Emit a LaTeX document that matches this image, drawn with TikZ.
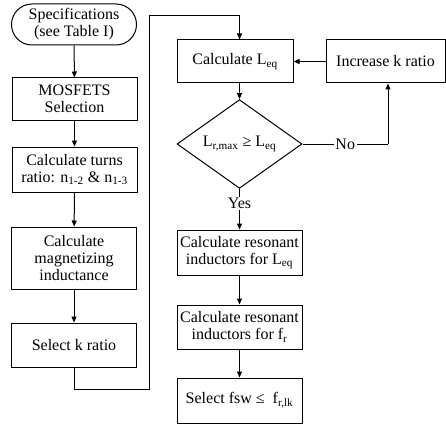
\documentclass[tikz,border=0pt]{standalone}
\usepackage{fontspec}
\setmainfont{Liberation Serif}
\usetikzlibrary{shapes.misc,shapes.geometric,arrows.meta,calc}

\begin{document}
\begin{tikzpicture}[x=1pt,y=-1pt,
  every node/.style={font=\fontsize{16}{17}\selectfont, align=center, inner sep=1pt},
  box/.style={draw, line width=1pt, rectangle, minimum width=125pt, minimum height=44pt},
  term/.style={draw, line width=1pt, rounded rectangle, minimum width=127pt, minimum height=41pt},
  decision/.style={draw, line width=1pt, diamond, minimum width=125pt, minimum height=62pt, inner sep=0pt},
  flow/.style={line width=1pt, -{Triangle[length=6pt,width=5pt]}},
  link/.style={line width=1pt},
  lbl/.style={fill=white, inner sep=1.5pt}
]
\useasboundingbox (0,0) rectangle (446,425);

% left column
\node[term] (spec) at (74,24.5) {Specifications\\(see Table I)};
\node[box, minimum height=42pt] (mos) at (74.5,99) {MOSFETS\\Selection};
\node[box, minimum height=45pt] (turns) at (74.5,169.5) {Calculate turns\\ratio: n\textsubscript{1-2} \& n\textsubscript{1-3}};
\node[box, minimum height=62pt] (mag) at (74,258) {Calculate\\magnetizing\\inductance};
\node[box] (selk) at (74,345) {Select k ratio};

% right column
\node[box, minimum width=116pt, minimum height=43pt] (leq) at (235,61.5) {Calculate L\textsubscript{eq}};
\node[box, minimum width=119pt, minimum height=43pt] (inc) at (385.5,61.5) {Increase k ratio};
\node[decision] (dia) at (239.5,144) {L\textsubscript{r,max} ≥ L\textsubscript{eq}};
\node[box, minimum height=45pt] (res1) at (239.5,252.5) {Calculate resonant\\inductors for L\textsubscript{eq}};
\node[box] (res2) at (239.5,327) {Calculate resonant\\inductors for f\textsubscript{r}};
\node[box, minimum height=45pt] (fsw) at (239.5,400.5) {Select fsw ≤\ \ f\textsubscript{r,lk}};

% routing points of the return path
\coordinate (b1) at (74,389);
\coordinate (b2) at (149,389);
\coordinate (b3) at (149,16);
\coordinate (b4) at (239.5,16);
\coordinate (nx) at (388,144);

% connectors
\draw[flow] (spec) -- (mos);
\draw[flow] (mos) -- (turns);
\draw[flow] (turns) -- (mag);
\draw[flow] (mag) -- (selk);
\draw[link] (selk.south) -- (b1) -- (b2) -- (b3) -- (b4);
\draw[flow] (b4) -- (b4 |- leq.north);
\draw[flow] (inc.west) -- (leq.east);
\draw[flow] (dia.north |- leq.south) -- (dia.north);
\draw[link] (dia.east) -- node[lbl] (no) {No} (nx);
\draw[flow] (nx) -- (nx |- inc.south);
\draw[flow] (dia.south) -- node[lbl, pos=0.36] (yes) {Yes} (res1.north);
\draw[flow] (res1) -- (res2);
\draw[flow] (res2) -- (fsw);
\end{tikzpicture}
\end{document}
